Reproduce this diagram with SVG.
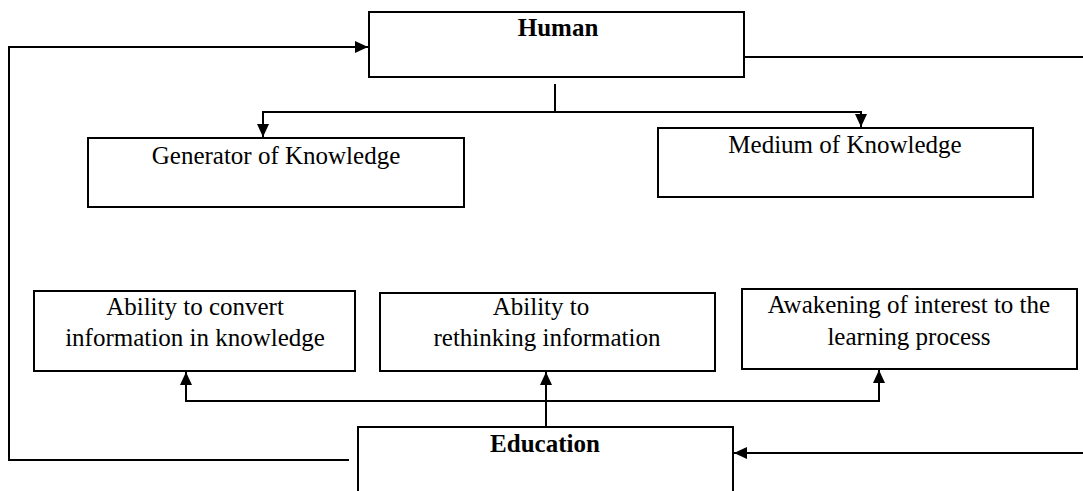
<svg xmlns="http://www.w3.org/2000/svg" width="1083" height="491" viewBox="0 0 1083 491">
<style>
.box{fill:#fff;stroke:#000;stroke-width:2}
.ln{fill:none;stroke:#000;stroke-width:2}
text{font-family:"Liberation Serif",Tinos,"Times New Roman","DejaVu Serif",serif;font-size:25px;fill:#000;text-anchor:middle}
.b{font-weight:bold}
</style>
<defs>
<marker id="ah" markerUnits="userSpaceOnUse" markerWidth="14" markerHeight="12" refX="13" refY="6" orient="auto">
<path d="M0,0 L13,6 L0,12 z" fill="#000"/>
</marker>
</defs>
<rect width="1083" height="491" fill="#fff"/>
<g id="connectors">
<polyline class="ln" points="349,460 9,460 9,47 368,47" marker-end="url(#ah)"/>
<line class="ln" x1="744" y1="57" x2="1083" y2="57"/>
<line class="ln" x1="1083" y1="453" x2="734" y2="453" marker-end="url(#ah)"/>
<line class="ln" x1="555" y1="84" x2="555" y2="112"/>
<polyline class="ln" points="555,112 263,112 263,137" marker-end="url(#ah)"/>
<polyline class="ln" points="555,112 861,112 861,127" marker-end="url(#ah)"/>
<line class="ln" x1="546" y1="427" x2="546" y2="372" marker-end="url(#ah)"/>
<polyline class="ln" points="546,401 186,401 186,372" marker-end="url(#ah)"/>
<polyline class="ln" points="546,401 879,401 879,370" marker-end="url(#ah)"/>
</g>
<g id="human">
<rect class="box" x="369" y="12" width="375" height="65"/>
<text class="b" x="558" y="36" font-family="Liberation Serif, serif">Human</text>
</g>
<g id="generator">
<rect class="box" x="88" y="138" width="376" height="69"/>
<text x="276" y="164" font-family="Liberation Serif, serif">Generator of Knowledge</text>
</g>
<g id="medium">
<rect class="box" x="658" y="128" width="375" height="69"/>
<text x="845" y="153" font-family="Liberation Serif, serif">Medium of Knowledge</text>
</g>
<g id="convert">
<rect class="box" x="34" y="291" width="321" height="80"/>
<text x="195" y="315" font-family="Liberation Serif, serif">Ability to convert</text>
<text x="195" y="346" font-family="Liberation Serif, serif">information in knowledge</text>
</g>
<g id="rethinking">
<rect class="box" x="380" y="293" width="335" height="78"/>
<text x="541" y="315" font-family="Liberation Serif, serif">Ability to</text>
<text x="547" y="346" font-family="Liberation Serif, serif">rethinking information</text>
</g>
<g id="awakening">
<rect class="box" x="742" y="289" width="335" height="80"/>
<text x="909" y="313" font-family="Liberation Serif, serif">Awakening of interest to the</text>
<text x="909" y="345" font-family="Liberation Serif, serif">learning process</text>
</g>
<g id="education">
<rect class="box" x="358" y="427" width="375" height="100"/>
<text class="b" x="545" y="452" font-family="Liberation Serif, serif">Education</text>
</g>
</svg>
